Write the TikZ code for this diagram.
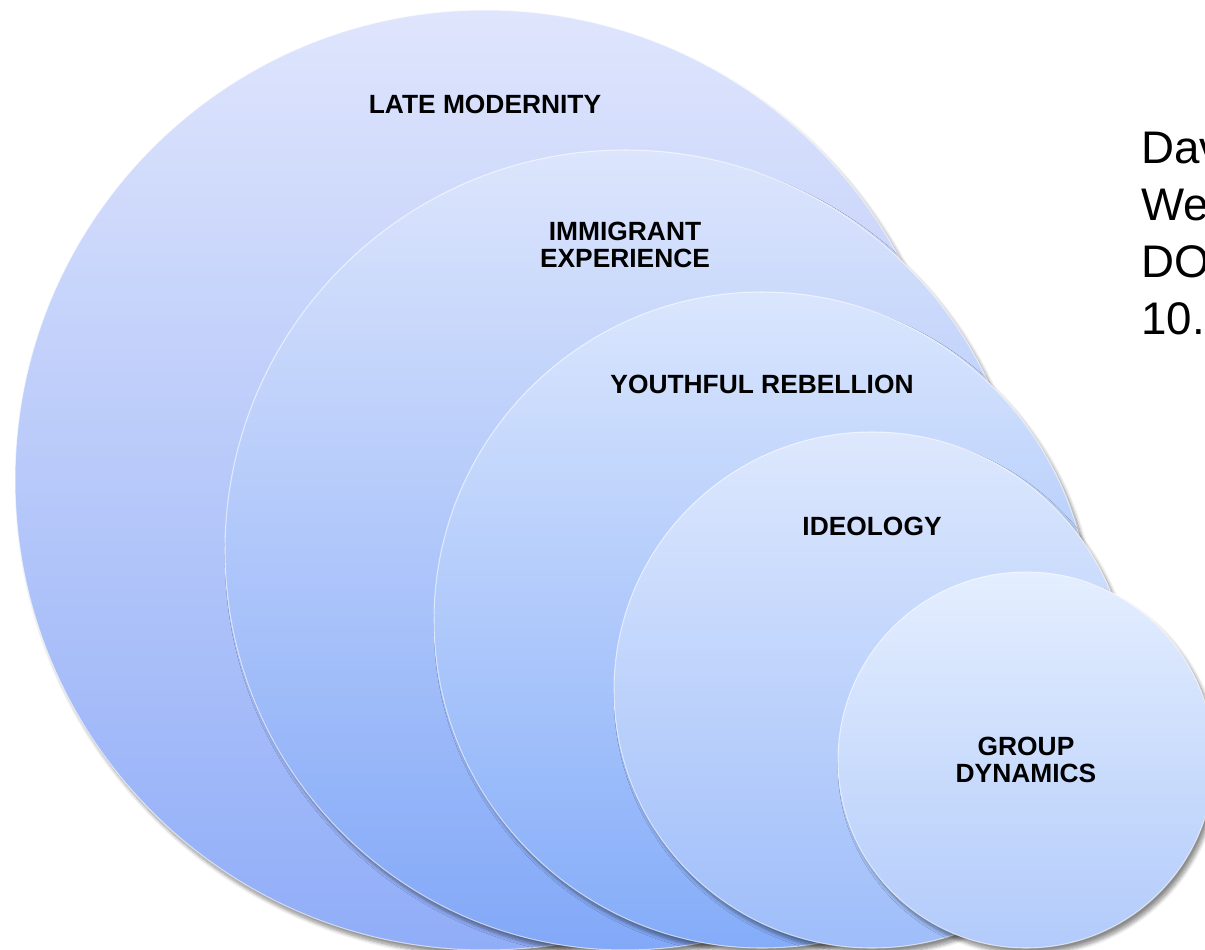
\documentclass[tikz,border=0pt]{standalone}
\usepackage{fontspec}
\setmainfont{Liberation Sans}
\usetikzlibrary{positioning, shadows.blur}

\definecolor{lmTop}{HTML}{DFE5FC}
\definecolor{lmBot}{HTML}{90ADF8}
\definecolor{imTop}{HTML}{DCE5FC}
\definecolor{imBot}{HTML}{82A8F8}
\definecolor{yrTop}{HTML}{DAE6FD}
\definecolor{yrBot}{HTML}{84ACF9}
\definecolor{idTop}{HTML}{DDE8FD}
\definecolor{idBot}{HTML}{9EBDFA}
\definecolor{gdTop}{HTML}{E4EEFE}
\definecolor{gdBot}{HTML}{B2CBFB}

\begin{document}
\begin{tikzpicture}[
  ring/.style={circle, draw=white, draw opacity=0.6, line width=0.6pt, inner sep=0pt,
    blur shadow={shadow xshift=2pt, shadow yshift=-3pt, shadow blur steps=8, shadow opacity=45}},
  lbl/.style={font=\bfseries\fontsize{15}{15.4}\selectfont, align=center}]
  \useasboundingbox (0,0) rectangle (24.1,-18.98);
  \clip (0,0) rectangle (24.1,-18.98);
  % --- nested circles, back to front ---
  \node[ring, minimum size=18.8cm, top color=lmTop, bottom color=lmBot] (late) at (9.7,-9.6) {};
  \node[ring, minimum size=16.0cm, top color=imTop, bottom color=imBot] (immig) at (12.5,-11.0) {};
  \node[ring, minimum size=13.12cm, top color=yrTop, bottom color=yrBot] (youth) at (15.24,-12.4) {};
  \node[ring, minimum size=10.32cm, top color=idTop, bottom color=idBot] (ideo) at (17.44,-13.8) {};
  \node[ring, minimum size=7.52cm, top color=gdTop, bottom color=gdBot] (group) at (20.52,-15.2) {};
  % --- labels ---
  \node[lbl] (lateL) at ([yshift=-1.9cm]late.north) {LATE MODERNITY};
  \node[lbl] (immigL) at ([yshift=-1.9cm]immig.north) {IMMIGRANT\\EXPERIENCE};
  \node[lbl] (youthL) at ([yshift=-1.86cm]youth.north) {YOUTHFUL REBELLION};
  \node[lbl] (ideoL) at ([yshift=-1.9cm]ideo.north) {IDEOLOGY};
  \node[lbl] (groupL) at (group.center) {GROUP\\DYNAMICS};
  % --- reference text (cut by the edge) ---
  \node[anchor=north west, inner sep=0pt, align=left, font=\fontsize{26}{32.4}\selectfont]
       (cite) at (22.82,-2.64) {Dav\\We\\DO\\10.};
\end{tikzpicture}
\end{document}
